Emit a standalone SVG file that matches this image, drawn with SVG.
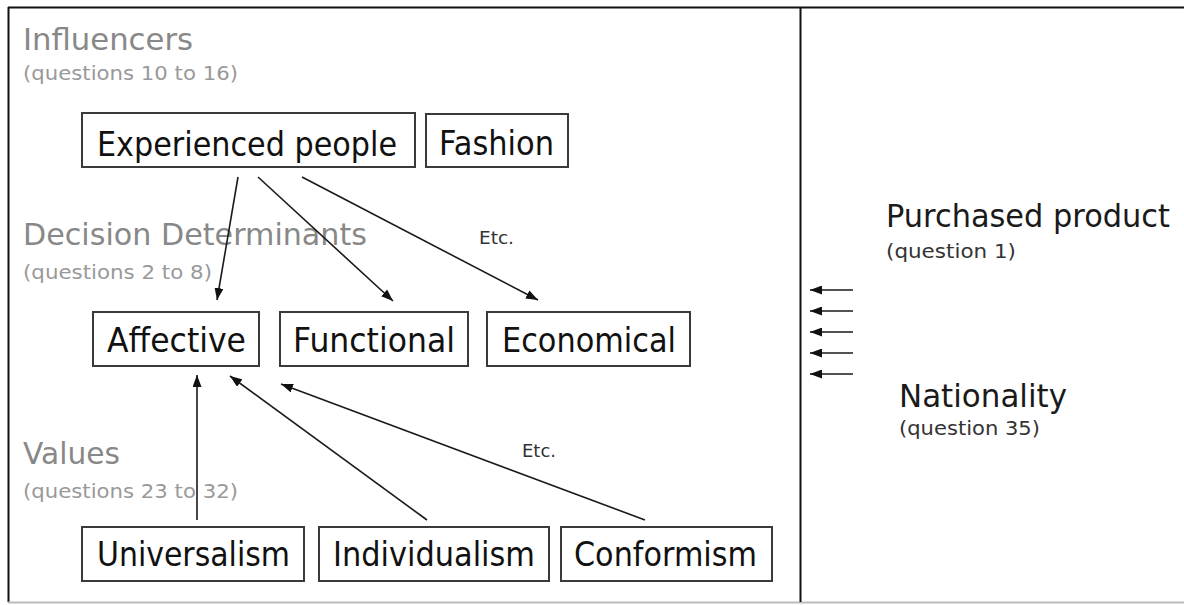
<svg xmlns="http://www.w3.org/2000/svg" width="1184" height="605" viewBox="0 0 1184 605">
<style>
text{font-family:"DejaVu Sans","Verdana",sans-serif}
.box{fill:#fff;stroke:#3a3a3a;stroke-width:2}
.nt{font-size:34px;fill:#111}
.hd{font-size:30px;fill:#888}
.sub{font-size:20px;fill:#999}
.rt{font-size:32px;fill:#1a1a1a}
.rs{font-size:20px;fill:#333}
.etc{font-size:18px;fill:#333}
.ln{stroke:#1a1a1a;stroke-width:1.6;fill:none;marker-end:url(#ah)}
</style>
<defs>
<marker id="ah" viewBox="0 0 12 9" refX="12" refY="4.5" markerWidth="12" markerHeight="9" markerUnits="userSpaceOnUse" orient="auto">
<path d="M0,0 L12,4.5 L0,9 z" fill="#111"/>
</marker>
</defs>
<rect width="1184" height="605" fill="#fff"/>
<g id="frame">
<line x1="8" y1="7.5" x2="1184" y2="7.5" stroke="#111" stroke-width="2"/>
<line x1="8.5" y1="7" x2="8.5" y2="602" stroke="#111" stroke-width="2"/>
<line x1="8" y1="602.5" x2="1184" y2="602.5" stroke="#bbb" stroke-width="2"/>
<line x1="800.5" y1="7" x2="800.5" y2="602" stroke="#111" stroke-width="2"/>
</g>
<g id="labels">
<text class="hd" x="23" y="50" textLength="170" lengthAdjust="spacingAndGlyphs">Influencers</text>
<text class="sub" x="23" y="80" textLength="215" lengthAdjust="spacingAndGlyphs">(questions 10 to 16)</text>
<text class="hd" x="23" y="245" textLength="344" lengthAdjust="spacingAndGlyphs">Decision Determinants</text>
<text class="sub" x="23" y="279" textLength="189" lengthAdjust="spacingAndGlyphs">(questions 2 to 8)</text>
<text class="hd" x="23" y="464" textLength="97" lengthAdjust="spacingAndGlyphs">Values</text>
<text class="sub" x="23" y="498" textLength="215" lengthAdjust="spacingAndGlyphs">(questions 23 to 32)</text>
<text class="etc" x="479" y="244" textLength="35" lengthAdjust="spacingAndGlyphs">Etc.</text>
<text class="etc" x="522" y="457" textLength="34" lengthAdjust="spacingAndGlyphs">Etc.</text>
</g>
<g id="purchased">
<text class="rt" x="886" y="227" textLength="284" lengthAdjust="spacingAndGlyphs">Purchased product</text>
<text class="rs" x="886" y="258" textLength="130" lengthAdjust="spacingAndGlyphs">(question 1)</text>
</g>
<g id="nationality">
<text class="rt" x="899" y="407" textLength="168" lengthAdjust="spacingAndGlyphs">Nationality</text>
<text class="rs" x="899" y="435" textLength="141" lengthAdjust="spacingAndGlyphs">(question 35)</text>
</g>
<g id="experienced">
<rect class="box" x="82" y="113" width="333" height="54"/>
<text class="nt" x="97" y="156" textLength="300" lengthAdjust="spacingAndGlyphs">Experienced people</text>
</g>
<g id="fashion">
<rect class="box" x="426" y="114" width="142" height="53"/>
<text class="nt" x="439" y="155" textLength="115" lengthAdjust="spacingAndGlyphs">Fashion</text>
</g>
<g id="affective">
<rect class="box" x="93" y="312" width="166" height="54"/>
<text class="nt" x="107" y="352" textLength="139" lengthAdjust="spacingAndGlyphs">Affective</text>
</g>
<g id="functional">
<rect class="box" x="280" y="312" width="188" height="54"/>
<text class="nt" x="293" y="352" textLength="162" lengthAdjust="spacingAndGlyphs">Functional</text>
</g>
<g id="economical">
<rect class="box" x="487" y="312" width="203" height="54"/>
<text class="nt" x="502" y="352" textLength="174" lengthAdjust="spacingAndGlyphs">Economical</text>
</g>
<g id="universalism">
<rect class="box" x="82" y="527" width="222" height="54"/>
<text class="nt" x="97" y="566" textLength="193" lengthAdjust="spacingAndGlyphs">Universalism</text>
</g>
<g id="individualism">
<rect class="box" x="319" y="527" width="230" height="54"/>
<text class="nt" x="333" y="566" textLength="202" lengthAdjust="spacingAndGlyphs">Individualism</text>
</g>
<g id="conformism">
<rect class="box" x="561" y="527" width="211" height="54"/>
<text class="nt" x="574" y="566" textLength="183" lengthAdjust="spacingAndGlyphs">Conformism</text>
</g>
<g id="connectors">
<line class="ln" x1="238" y1="177" x2="217" y2="300"/>
<line class="ln" x1="258" y1="177" x2="393" y2="301"/>
<line class="ln" x1="302" y1="177" x2="538" y2="300"/>
<line class="ln" x1="197" y1="520" x2="197" y2="375"/>
<line class="ln" x1="427" y1="520" x2="230" y2="376"/>
<line class="ln" x1="645" y1="520" x2="281" y2="384"/>
<line class="ln" x1="853" y1="290" x2="810" y2="290"/>
<line class="ln" x1="853" y1="311" x2="810" y2="311"/>
<line class="ln" x1="853" y1="332" x2="810" y2="332"/>
<line class="ln" x1="853" y1="353" x2="810" y2="353"/>
<line class="ln" x1="853" y1="374" x2="810" y2="374"/>
</g>
</svg>
